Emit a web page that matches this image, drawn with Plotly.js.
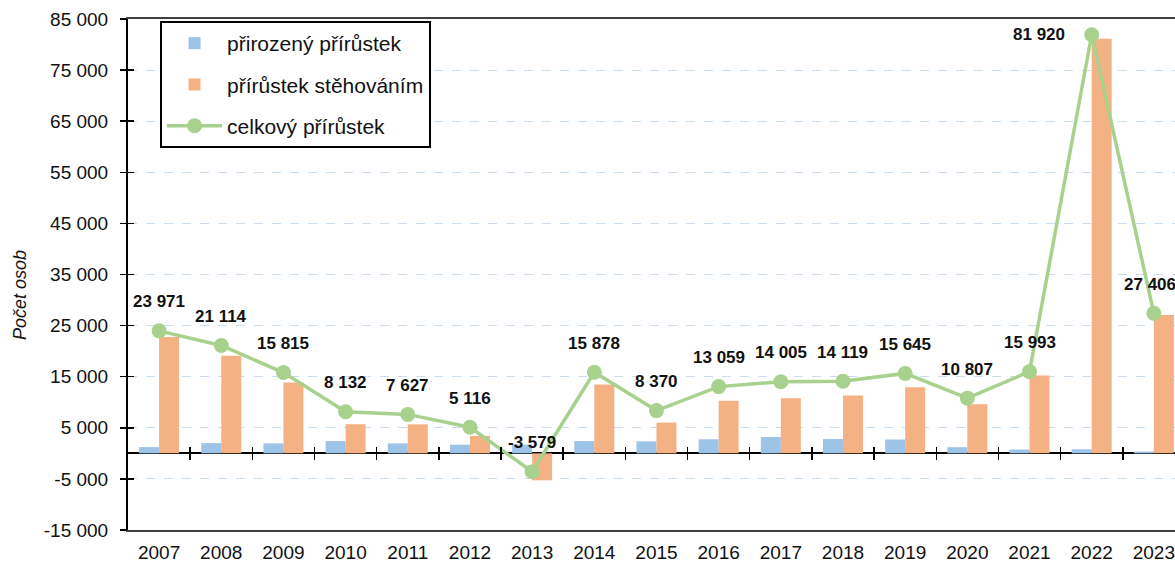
<!DOCTYPE html>
<html>
<head>
<meta charset="utf-8">
<script src="https://cdn.plot.ly/plotly-3.0.1.min.js"></script>
<style>html,body{margin:0;padding:0;background:#fff;}#chart{width:1175px;height:565px;}</style>
</head>
<body>
<div id="chart"></div>
<script>
const years = ['2007','2008','2009','2010','2011','2012','2013','2014','2015','2016','2017','2018','2019','2020','2021','2022','2023'];
const natural = [1220, 2000, 1950, 2400, 1950, 1700, 1700, 2400, 2350, 2750, 3200, 2800, 2710, 1200, 750, 800, 350];
const migration = [22750, 19114, 13865, 5700, 5677, 3416, -5279, 13478, 6020, 10309, 10805, 11319, 12935, 9607, 15243, 81120, 27056];
const total = [23971, 21114, 15815, 8132, 7627, 5116, -3579, 15878, 8370, 13059, 14005, 14119, 15645, 10807, 15993, 81920, 27406];
const yTickVals = [-15000, -5000, 5000, 15000, 25000, 35000, 45000, 55000, 65000, 75000, 85000];
const yTickText = ['-15 000', '-5 000', '5 000', '15 000', '25 000', '35 000', '45 000', '55 000', '65 000', '75 000', '85 000'];
const seriesNames = ['přirozený přírůstek', 'přírůstek stěhováním', 'celkový přírůstek'];
const yTitle = 'Počet osob';

const FONT = 'Arial, Liberation Sans, sans-serif';
const yRange = [yTickVals[0], yTickVals[yTickVals.length - 1]];
const xRange = [-0.5, 16.34];
const zeroPos = (0 - yRange[0]) / (yRange[1] - yRange[0]);
const boundaries = years.slice(0, -1).map((_, i) => i + 0.5);

function fmt(v) {
  const s = Math.abs(v).toString().replace(/\B(?=(\d{3})+(?!\d))/g, ' ');
  return (v < 0 ? '-' : '') + s;
}

const traces = [
  {type: 'bar', x: years, y: natural, name: seriesNames[0], marker: {color: '#9dc3e6'}, legendgroup: 'a', hoverinfo: 'skip'},
  {type: 'bar', x: years, y: migration, name: seriesNames[1], marker: {color: '#f4b183'}, legendgroup: 'b', hoverinfo: 'skip'},
  {type: 'scatter', mode: 'lines+markers', x: years, y: total, name: seriesNames[2],
   line: {color: '#a9d18e', width: 3.5}, marker: {color: '#a9d18e', size: 15}, legendgroup: 'c', hoverinfo: 'skip'},
  {type: 'scatter', x: [], y: [], xaxis: 'x2', yaxis: 'y', showlegend: false, hoverinfo: 'skip'},
  {type: 'scatter', x: [], y: [], xaxis: 'x3', yaxis: 'y', showlegend: false, hoverinfo: 'skip'},
  {type: 'scatter', x: [], y: [], xaxis: 'x', yaxis: 'y2', showlegend: false, hoverinfo: 'skip'}
];

const last = years.length - 1;
const annotations = years.map((yr, i) => ({
  x: i, y: total[i], xref: 'x', yref: 'y',
  text: '<b>' + fmt(total[i]) + '</b>', showarrow: false,
  font: {family: FONT, size: 17, color: '#111'},
  xshift: i === 15 ? -53 : (i === last ? -4 : 0), yshift: i === 15 ? 0 : 29
}));
annotations.push({
  xref: 'paper', yref: 'paper', x: -0.103, y: 0.46, xanchor: 'center', yanchor: 'middle',
  text: yTitle, textangle: -90, showarrow: false,
  font: {family: FONT, size: 18, color: '#111', style: 'italic'}
});

const layout = {
  width: 1175, height: 565,
  margin: {l: 128, r: 0, t: 19, b: 35, pad: 0},
  paper_bgcolor: '#fff', plot_bgcolor: '#fff',
  font: {family: FONT, size: 19, color: '#111'},
  barmode: 'group', bargap: 0.357, bargroupgap: 0,
  showlegend: true,
  legend: {x: 0.0306, y: 0.996, xanchor: 'left', yanchor: 'top',
    bordercolor: '#000', borderwidth: 2, bgcolor: '#fff',
    font: {family: FONT, size: 21, color: '#111'}, traceorder: 'grouped', tracegroupgap: 11, itemwidth: 55},
  xaxis: {type: 'category', range: xRange, showline: true, linecolor: '#404040', linewidth: 2, mirror: true,
    ticks: '', showgrid: false, zeroline: false, ticklabelstandoff: 4,
    tickfont: {family: FONT, size: 19, color: '#111'}},
  xaxis2: {overlaying: 'x', anchor: 'free', position: zeroPos, range: xRange, type: 'linear',
    tickmode: 'array', tickvals: boundaries, ticks: 'outside', ticklen: 6, tickwidth: 1.5, tickcolor: '#000',
    showticklabels: false, showgrid: false, zeroline: false, showline: false},
  xaxis3: {overlaying: 'x', anchor: 'free', position: zeroPos, range: xRange, type: 'linear',
    tickmode: 'array', tickvals: boundaries, ticks: 'inside', ticklen: 6, tickwidth: 1.5, tickcolor: '#000',
    showticklabels: false, showgrid: false, zeroline: false, showline: false},
  yaxis: {range: yRange, tickmode: 'array', tickvals: yTickVals, ticktext: yTickText,
    ticks: 'outside', ticklen: 6, tickwidth: 1.5, tickcolor: '#000',
    showline: true, linecolor: '#000', linewidth: 2,
    showgrid: true, gridcolor: '#c9dcf0', griddash: 'dash', gridwidth: 1,
    zeroline: true, zerolinecolor: '#000', zerolinewidth: 2,
    ticklabelstandoff: 8,
    tickfont: {family: FONT, size: 19, color: '#111'}},
  yaxis2: {overlaying: 'y', anchor: 'x', side: 'left', range: yRange, tickmode: 'array', tickvals: yTickVals,
    ticks: 'inside', ticklen: 6, tickwidth: 1.5, tickcolor: '#000', showticklabels: false,
    showgrid: false, zeroline: false, showline: false},
  annotations: annotations
};

Plotly.newPlot('chart', traces, layout, {staticPlot: true, displayModeBar: false});
</script>
</body>
</html>
